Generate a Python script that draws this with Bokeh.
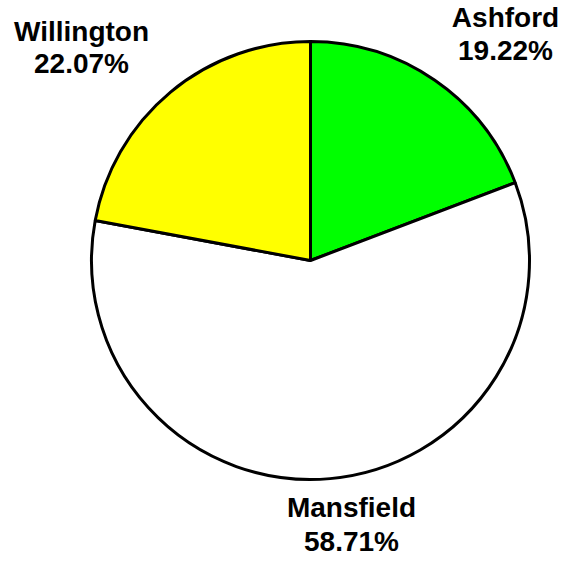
import numpy as np
from bokeh.plotting import figure
from bokeh.models import Range1d, ColumnDataSource
from bokeh.core.properties import value
from bokeh.embed import file_html
from bokeh.resources import INLINE

# ---- data ----
names = ["Ashford", "Mansfield", "Willington"]
shares = [19.22, 58.71, 22.07]
colors = ["#00FF00", "#FFFFFF", "#FFFF00"]

# ---- layout (screen pixels of the picture) ----
W, H = 566, 561
cx, cy_screen, R = 310, 260, 219
label_x = [505, 351, 81]          # label centres
name_base = [17, 507, 31]         # anchor of name line
pct_base = [50, 541, 63]          # anchor of percent line


def sy(y):
    return H - y


vals = np.array(shares, dtype=float)
frac = vals / vals.sum()
cum_before = np.concatenate([[0.0], np.cumsum(frac)[:-1]])
start = np.pi / 2 - 2 * np.pi * cum_before
end = start - 2 * np.pi * frac

src = ColumnDataSource(dict(name=names, start=start, end=end, color=colors))

p = figure(width=W, height=H, output_backend="svg", toolbar_location=None,
           x_range=Range1d(0, W), y_range=Range1d(0, H),
           min_border=0, outline_line_color=None, background_fill_color="white",
           border_fill_color="white")
p.axis.visible = False
p.grid.visible = False

p.wedge(x=cx, y=sy(cy_screen), radius=R, start_angle="start", end_angle="end",
        direction="clock", fill_color="color", line_color="black", line_width=3,
        source=src)

lsrc = ColumnDataSource(dict(
    x=label_x,
    yn=[sy(v) for v in name_base],
    yp=[sy(v) for v in pct_base],
    name=names,
    pct=[f"{v:.2f}%" for v in shares],
))
common = dict(text_font=value("Liberation Sans"), text_font_style="bold",
              text_font_size="28px", text_color="black", text_align="center",
              text_baseline="alphabetic", source=lsrc)
p.text(x="x", y="yn", text="name", **common)
p.text(x="x", y="yp", text="pct", **common)

open("out.html", "w").write(file_html(p, INLINE))
